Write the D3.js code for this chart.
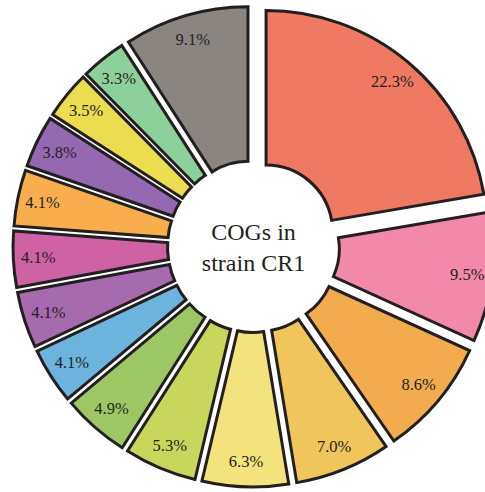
<!DOCTYPE html>
<html>
<head>
<meta charset="utf-8">
<script src="https://cdn.jsdelivr.net/npm/d3@7"></script>
<style>
  html, body { margin: 0; padding: 0; background: #ffffff; }
  svg { display: block; }
</style>
</head>
<body>
<div id="chart"></div>
<script>
// ---- data ----
const sliceNames = ["s1","s2","s3","s4","s5","s6","s7","s8","s9","s10","s11","s12","s13","s14","s15"];
const sliceValues = [22.3, 9.5, 8.6, 7.0, 6.3, 5.3, 4.9, 4.1, 4.1, 4.1, 4.1, 3.8, 3.5, 3.3, 9.1];
const sliceLabels = ["22.3%","9.5%","8.6%","7.0%","6.3%","5.3%","4.9%","4.1%","4.1%","4.1%","4.1%","3.8%","3.5%","3.3%","9.1%"];
const centerLines = ["COGs in", "strain CR1"];

// ---- styles ----
const palette = ["#EF7963","#F289AA","#F2AB4D","#F0C65C","#F2E37C","#C8D75C","#9DC765",
                 "#6CB4DD","#A86AAF","#CE62A3","#F9AE4E","#9568B2","#EBDC50","#8ED09B","#8B8582"];

const W = 485, H = 492;
const cx = 253.5, cy = 246.5;
const rOuter = 221, rInner = 66.5, explode = 19.5, rLabel = 196;

const svg = d3.select("#chart").append("svg").attr("width", W).attr("height", H);
const g = svg.append("g").attr("transform", `translate(${cx},${cy})`);

const pie = d3.pie().sort(null).value(d => d.value);
const arcs = pie(sliceValues.map((v, i) => ({ name: sliceNames[i], value: v, label: sliceLabels[i] })));
const arc = d3.arc().innerRadius(rInner).outerRadius(rOuter);

const slices = g.selectAll("g.slice").data(arcs).enter().append("g")
  .attr("class", "slice")
  .attr("transform", d => {
    const a = (d.startAngle + d.endAngle) / 2;
    return `translate(${explode * Math.sin(a)},${-explode * Math.cos(a)})`;
  });

slices.append("path")
  .attr("d", arc)
  .attr("fill", (d, i) => palette[i])
  .attr("stroke", "#231f20")
  .attr("stroke-width", 3)
  .attr("stroke-linejoin", "miter");

slices.append("text")
  .attr("x", d => rLabel * Math.sin((d.startAngle + d.endAngle) / 2))
  .attr("y", d => -rLabel * Math.cos((d.startAngle + d.endAngle) / 2))
  .attr("text-anchor", "middle")
  .attr("dominant-baseline", "central")
  .attr("font-family", "'Liberation Serif', 'Times New Roman', serif")
  .attr("font-size", 16.5)
  .attr("fill", "#231f20")
  .text(d => d.data.label);

g.selectAll("text.center").data(centerLines).enter().append("text")
  .attr("class", "center")
  .attr("x", 0)
  .attr("y", (d, i) => -7 + i * 31)
  .attr("text-anchor", "middle")
  .attr("font-family", "'Liberation Serif', 'Times New Roman', serif")
  .attr("font-size", 24)
  .attr("fill", "#231f20")
  .text(d => d);
</script>
</body>
</html>
